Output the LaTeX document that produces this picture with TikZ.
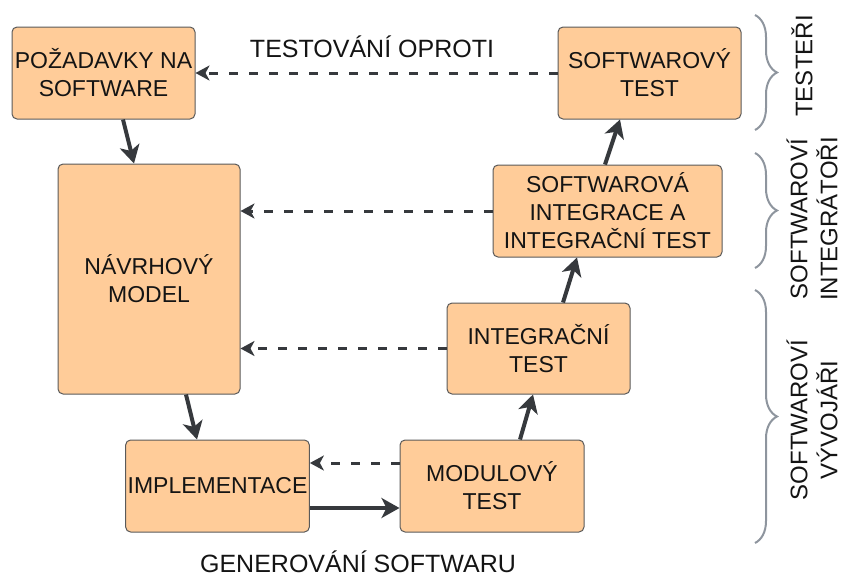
\documentclass[tikz,border=0pt]{standalone}
\usepackage{fontspec}
\setmainfont{Liberation Sans}
\usetikzlibrary{arrows.meta,calc,decorations.pathreplacing}

\definecolor{boxfill}{HTML}{FFCC99}
\definecolor{boxline}{HTML}{5A5A5A}
\definecolor{arrowc}{HTML}{36393D}
\definecolor{bracec}{HTML}{8E959E}
\definecolor{txt}{HTML}{141414}

\tikzset{
  stage/.style={draw=boxline, fill=boxfill, line width=1pt, rounded corners=5pt,
    align=center, text=txt, inner sep=2pt,
    font=\fontsize{23}{28}\selectfont},
  flow/.style={draw=arrowc, line width=4pt,
    -{Stealth[length=18pt,width=20pt,inset=5pt]}},
  backflow/.style={draw=arrowc, line width=3pt, dash pattern=on 9pt off 11pt,
    -{Stealth[length=14pt,width=15pt,inset=4pt]}},
  group/.style={draw=bracec, line width=2pt,
    decorate, decoration={brace, amplitude=22pt}},
  caption/.style={text=txt, font=\fontsize{25}{30}\selectfont, inner sep=0pt,
    anchor=base},
  role/.style={text=txt, font=\fontsize{24}{30}\selectfont, align=center,
    inner sep=0pt, rotate=90}
}

\begin{document}
\begin{tikzpicture}[x=1pt,y=-1pt]
\useasboundingbox (0,0) rectangle (844,576);

% process stages
\node[stage, minimum width=183pt, minimum height=92pt] (req) at (103.5,73)
  {POŽADAVKY NA\\SOFTWARE};
\node[stage, minimum width=182pt, minimum height=230pt] (design) at (149,279)
  {NÁVRHOVÝ\\MODEL};
\node[stage, minimum width=183pt, minimum height=92pt] (impl) at (217.5,486)
  {IMPLEMENTACE};
\node[stage, minimum width=184pt, minimum height=92pt] (unit) at (492,486)
  {MODULOVÝ\\TEST};
\node[stage, minimum width=183pt, minimum height=91pt] (integ) at (538.5,348.5)
  {INTEGRAČNÍ\\TEST};
\node[stage, minimum width=229pt, minimum height=92pt] (sysint) at (607.5,211)
  {SOFTWAROVÁ\\INTEGRACE A\\INTEGRAČNÍ TEST};
\node[stage, minimum width=183pt, minimum height=92pt] (systest) at (649.5,73)
  {SOFTWAROVÝ\\TEST};

% main flow
\draw[flow] ($(req.south)+(19.5,0)$) -- ($(design.north)+(-15,0)$);
\draw[flow] ($(design.south)+(37,0)$) -- ($(impl.north)+(-20.5,0)$);
\draw[flow] ($(impl.east)+(0,22)$) -- ($(unit.west)+(0,22)$);
\draw[flow] ($(unit.north)+(28,0)$) -- ($(integ.south)+(-5.5,0)$);
\draw[flow] ($(integ.north)+(24.5,0)$) -- ($(sysint.south)+(-30.5,0)$);
\draw[flow] ($(sysint.north)+(-2.5,0)$) -- ($(systest.south)+(-29.5,0)$);

% verification links
\draw[backflow] (systest.west) -- (req.east);
\draw[backflow] (sysint.west) -- (design.east |- sysint.west);
\draw[backflow] (integ.west) -- (design.east |- integ.west);
\draw[backflow] ($(unit.west)+(0,-23)$) -- ($(impl.east)+(0,-23)$);

% captions
\node[caption] (verify) at (372,57) {TESTOVÁNÍ OPROTI};
\node[caption] (gen) at (358,572) {GENEROVÁNÍ SOFTWARU};

% roles
\coordinate (b1a) at (755,15);  \coordinate (b1b) at (755,130);
\coordinate (b2a) at (755,153); \coordinate (b2b) at (755,268);
\coordinate (b3a) at (755,290); \coordinate (b3b) at (755,543);
\draw[group] (b1a) -- (b1b);
\draw[group] (b2a) -- (b2b);
\draw[group] (b3a) -- (b3b);

\node[role] (testers) at (802,66) {TESTEŘI};
\node[role] (integrators) at (812,219) {SOFTWAROVÍ\\INTEGRÁTOŘI};
\node[role] (devs) at (812,420) {SOFTWAROVÍ\\VÝVOJÁŘI};
\end{tikzpicture}
\end{document}
